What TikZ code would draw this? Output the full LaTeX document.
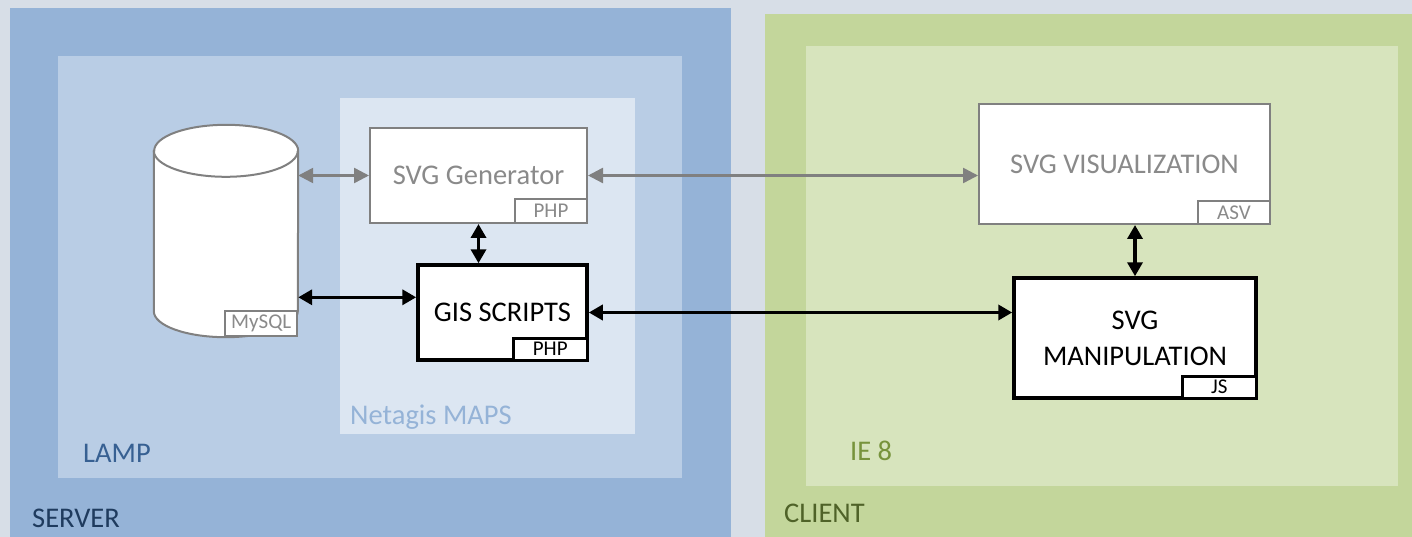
\documentclass[tikz,border=0pt]{standalone}
\usepackage{fontspec}
\setmainfont{Carlito}
\usepackage{tikz}
\usetikzlibrary{arrows.meta,shapes.geometric}
\usetikzlibrary{arrows,shapes}

\definecolor{pagebg}{HTML}{D7DEE7}
\definecolor{serverfill}{HTML}{95B3D7}
\definecolor{lampfill}{HTML}{B9CDE5}
\definecolor{mapsfill}{HTML}{DCE6F2}
\definecolor{clientfill}{HTML}{C3D69B}
\definecolor{iefill}{HTML}{D7E4BD}
\definecolor{servertxt}{HTML}{1F3B5E}
\definecolor{lamptxt}{HTML}{376092}
\definecolor{mapstxt}{HTML}{95B3D7}
\definecolor{clienttxt}{HTML}{4F6228}
\definecolor{ietxt}{HTML}{77933C}
\definecolor{greyline}{HTML}{808080}
\definecolor{greytxt}{HTML}{8A8A8A}

\tikzset{
  bigfont/.style={font=\fontsize{28.5}{36}\selectfont},
  tagfont/.style={font=\fontsize{21}{24}\selectfont},
  greybox/.style={rectangle, draw=greyline, line width=2pt, fill=white,
    text=greytxt, bigfont, align=center},
  blackbox/.style={rectangle, draw=black, line width=3.5pt, fill=white,
    bigfont, align=center},
  greytag/.style={rectangle, draw=greyline, line width=2pt, fill=white,
    text=greytxt, tagfont, inner sep=0pt},
  blacktag/.style={rectangle, draw=black, line width=3pt, fill=white,
    tagfont, inner sep=0pt},
  zonelabel/.style={anchor=base west, inner sep=0pt, bigfont},
  greylink/.style={greyline, line width=2.5pt,
    {Triangle[length=15pt,width=15pt]}-{Triangle[length=15pt,width=15pt]}},
  blacklink/.style={black, line width=3.5pt,
    {Triangle[length=14pt,width=15pt]}-{Triangle[length=14pt,width=15pt]}}
}

\begin{document}
\begin{tikzpicture}[x=1pt,y=-1pt]
\useasboundingbox (0,0) rectangle (1412,537);
\fill[pagebg] (0,0) rectangle (1412,537);

% zones
\fill[serverfill] (10,8) rectangle (731,537);
\fill[lampfill] (58,56) rectangle (682,478);
\fill[mapsfill] (340,98) rectangle (635,434);
\fill[clientfill] (765,14) rectangle (1412,537);
\fill[iefill] (806,46) rectangle (1398,486);

\node[zonelabel, text=servertxt] (server) at (32,527) {SERVER};
\node[zonelabel, text=lamptxt] (lamp) at (83,462) {LAMP};
\node[zonelabel, text=mapstxt] (maps) at (350,424) {Netagis MAPS};
\node[zonelabel, text=clienttxt] (client) at (784,522) {CLIENT};
\node[zonelabel, text=ietxt] (ie) at (850,460) {IE 8};

% database
\node[minimum width=144pt, minimum height=212pt] (db) at (226,231) {};
\draw[greyline, line width=2pt, fill=white]
  ([yshift=-26pt]db.north west) -- ([yshift=26pt]db.south west)
  arc (180:360:72pt and 26pt) -- ([yshift=-26pt]db.north east)
  arc (0:180:72pt and 26pt) -- cycle;
\draw[greyline, line width=2pt]
  ([yshift=-26pt]db.north west) arc (180:360:72pt and 26pt);
\node[greytag, minimum width=72pt, minimum height=25pt, anchor=south east]
  (dbtag) at (db.south east) {MySQL};

% boxes
\node[greybox, minimum width = 217pt,
    minimum height = 95pt] (gen) at (478.5,175.5) {SVG Generator};
\node[greytag, minimum width=72pt, minimum height=24pt, anchor=south east]
  (gentag) at (gen.south east) {PHP};

\node[blackbox, minimum width = 169pt,
    minimum height = 95pt] (gis) at (502.5,312.5) {GIS SCRIPTS};
\node[blacktag, minimum width=74pt, minimum height=22pt, anchor=south east]
  (gistag) at (gis.south east) {PHP};

\node[greybox, minimum width = 291pt,
    minimum height = 120pt] (vis) at (1124.5,164) {SVG VISUALIZATION};
\node[greytag, minimum width=72pt, minimum height=23pt, anchor=south east]
  (vistag) at (vis.south east) {ASV};

\node[blackbox, minimum width = 242pt,
    minimum height = 120pt] (manip) at (1135,338) {SVG\\MANIPULATION};
\node[blacktag, minimum width=74pt, minimum height=22pt, anchor=south east]
  (maniptag) at (manip.south east) {JS};

% links
\draw[greylink] (db.east |- gen.west) -- (gen.west);
\draw[greylink] (gen.east) -- (vis.west |- gen.east);
\draw[blacklink] (gen.south) -- (gen.south |- gis.north);
\draw[blacklink] (db.east |- gis.170) -- (gis.170);
\draw[blacklink] (gis.east) -- (manip.west |- gis.east);
\draw[blacklink] (vis.south -| manip.north) -- (manip.north);
\end{tikzpicture}
\end{document}
